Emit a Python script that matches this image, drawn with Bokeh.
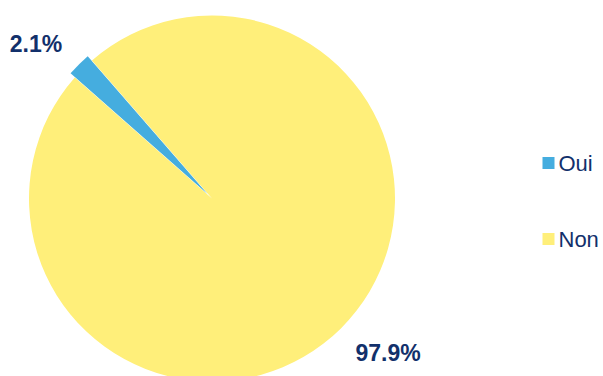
import math
from bokeh.plotting import figure
from bokeh.models import Range1d, ColumnDataSource
from bokeh.core.properties import value
from bokeh.embed import file_html
from bokeh.resources import INLINE

categories = ["Oui", "Non"]
shares = [2.1, 97.9]
pct_labels = ["2.1%", "97.9%"]
colors = ["#45ADDF", "#FFEF7A"]

W, H = 603, 376
cx, cy, R = 211.5, H - 198.0, 183.0
start_deg = 131.0
explode = [6.0, 0.0]
label_r = 234.0
label_shift_deg = 4.0

total = sum(shares)
starts, ends, xs, ys, lx, ly = [], [], [], [], [], []
a = math.radians(start_deg)
for s, ex in zip(shares, explode):
    span = 2 * math.pi * s / total
    mid = a + span / 2
    starts.append(a)
    ends.append(a + span)
    xs.append(cx + ex * math.cos(mid))
    ys.append(cy + ex * math.sin(mid))
    la = mid + math.radians(label_shift_deg)
    lx.append(cx + label_r * math.cos(la))
    ly.append(cy + label_r * math.sin(la))
    a += span

src = ColumnDataSource(dict(x=xs, y=ys, start=starts, end=ends, color=colors,
                            lx=lx, ly=ly, lab=pct_labels, cat=categories))

p = figure(width=W, height=H, output_backend="svg", toolbar_location=None,
           x_range=Range1d(0, W), y_range=Range1d(0, H), min_border=0)
p.axis.visible = False
p.grid.visible = False
p.outline_line_color = None
p.background_fill_color = "white"

p.wedge(x="x", y="y", radius=R, start_angle="start", end_angle="end",
        fill_color="color", line_color=None, source=src)

navy = "#12306B"
p.text(x="lx", y="ly", text="lab", source=src, text_font=value("Liberation Sans"),
       text_font_style="bold", text_font_size="23px", text_color=navy,
       text_align="center", text_baseline="middle")

# legend
leg_x = 548.0
leg_y = [H - 162.5, H - 238.5]
leg = ColumnDataSource(dict(x=[leg_x] * 2, y=leg_y, color=colors, cat=categories,
                            tx=[leg_x + 10] * 2))
p.rect(x="x", y="y", width=12, height=12, fill_color="color", line_color=None, source=leg)
p.text(x="tx", y="y", text="cat", source=leg, text_font=value("Liberation Sans"),
       text_font_size="22px", text_color=navy, text_align="left", text_baseline="middle")

open("out.html", "w").write(file_html(p, INLINE))
